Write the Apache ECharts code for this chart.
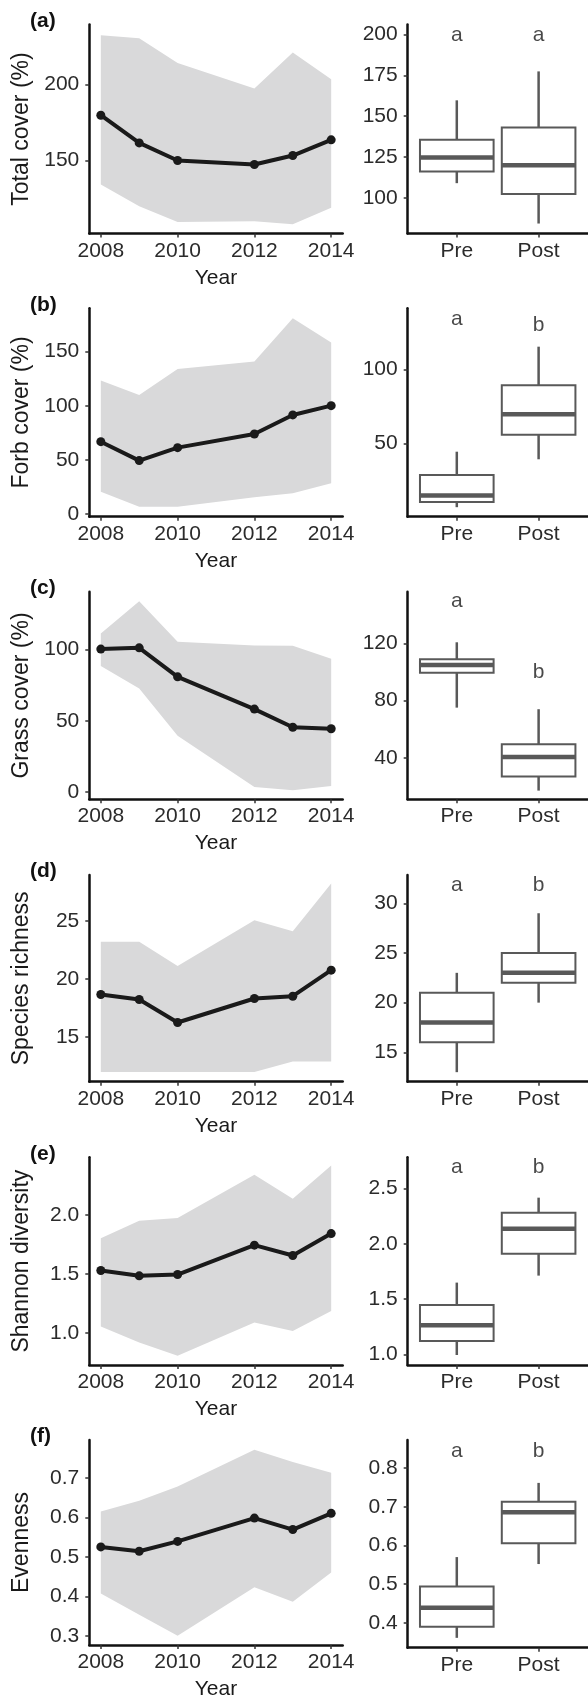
<!DOCTYPE html>
<html>
<head>
<meta charset="utf-8">
<script src="https://cdn.jsdelivr.net/npm/echarts@6/dist/echarts.min.js"></script>
<style>
  html, body { margin: 0; padding: 0; background: #fff; }
  #chart { width: 588px; height: 1701px; }
</style>
</head>
<body>
<div id="chart"></div>
<script>
const years = [2008, 2009, 2010, 2012, 2013, 2014];
const yearTicks = [2008, 2010, 2012, 2014];
const groups = ['Pre', 'Post'];
const tags = ['(a)', '(b)', '(c)', '(d)', '(e)', '(f)'];
const yTitles = ['Total cover (%)', 'Forb cover (%)', 'Grass cover (%)', 'Species richness', 'Shannon diversity', 'Evenness'];

// (a) total cover
const totalMean = [179.8, 161.6, 150.0, 147.4, 153.3, 163.6];
const totalUpper = [232.4, 230.5, 214.2, 197.4, 221.0, 203.5];
const totalLower = [134.2, 120.0, 109.6, 110.0, 108.1, 119.0];
const totalBox = [[109, 116.1, 124.7, 135.5, 159.7], [84.3, 102.4, 120, 143, 177.4]];
const totalLetters = ['a', 'a'];
const totalLetterY = [199.4, 199.4];
const totalTicks = [150, 200];
const totalBoxTicks = [100, 125, 150, 175, 200];

// (b) forb cover
const forbMean = [66.8, 49.3, 61.3, 73.9, 91.5, 100.1];
const forbUpper = [123.2, 110.0, 134.0, 140.8, 180.9, 158.3];
const forbLower = [20.6, 6.7, 6.7, 15.4, 19.1, 28.4];
const forbBox = [[7.3, 10.8, 15.1, 29, 44.6], [39.5, 56, 69.8, 89.2, 115.2]];
const forbLetters = ['a', 'b'];
const forbLetterY = [134, 129.6];
const forbTicks = [0, 50, 100, 150];
const forbBoxTicks = [50, 100];

// (c) grass cover
const grassMean = [100.2, 101.1, 80.8, 58.2, 45.5, 44.4];
const grassUpper = [111.2, 133.8, 105.3, 102.8, 102.5, 93.4];
const grassLower = [88.3, 72.7, 39.5, 3.7, 1.4, 4.4];
const grassBox = [[75.1, 99.5, 104.9, 108.8, 120.7], [17.2, 27, 40.7, 49.6, 74]];
const grassLetters = ['a', 'b'];
const grassLetterY = [149.6, 99.6];
const grassTicks = [0, 50, 100];
const grassBoxTicks = [40, 80, 120];

// (d) species richness
const richMean = [18.66, 18.23, 16.25, 18.31, 18.51, 20.75];
const richUpper = [23.2, 23.2, 21.1, 25.05, 24.1, 28.2];
const richLower = [12, 12, 12, 12, 12.9, 12.9];
const richBox = [[13, 16, 18, 21, 23], [20, 22, 23, 25, 29]];
const richLetters = ['a', 'b'];
const richLetterY = [31.85, 31.85];
const richTicks = [15, 20, 25];
const richBoxTicks = [15, 20, 25, 30];

// (e) Shannon diversity
const shanMean = [1.531, 1.486, 1.497, 1.746, 1.658, 1.844];
const shanUpper = [1.805, 1.952, 1.975, 2.342, 2.138, 2.42];
const shanLower = [1.056, 0.921, 0.81, 1.09, 1.02, 1.189];
const shanBox = [[0.997, 1.123, 1.266, 1.449, 1.65], [1.713, 1.91, 2.135, 2.28, 2.416]];
const shanLetters = ['a', 'b'];
const shanLetterY = [2.687, 2.687];
const shanTicks = [1.0, 1.5, 2.0];
const shanBoxTicks = [1.0, 1.5, 2.0, 2.5];

// (f) evenness
const evenMean = [0.525, 0.514, 0.539, 0.598, 0.569, 0.61];
const evenUpper = [0.615, 0.642, 0.678, 0.771, 0.74, 0.713];
const evenLower = [0.407, 0.353, 0.3, 0.423, 0.386, 0.46];
const evenBox = [[0.361, 0.39, 0.439, 0.494, 0.57], [0.552, 0.606, 0.686, 0.713, 0.762]];
const evenLetters = ['a', 'b'];
const evenLetterY = [0.845, 0.845];
const evenTicks = [0.3, 0.4, 0.5, 0.6, 0.7];
const evenBoxTicks = [0.4, 0.5, 0.6, 0.7, 0.8];

const FONT = 'Liberation Sans, Arial, Helvetica, sans-serif';
const INK = '#1a1a1a';
const TICK_TEXT = '#2b2b2b';
const BAND = '#d9d9da';
const BOX_INK = '#595959';

const panels = [
  { mean: totalMean, upper: totalUpper, lower: totalLower, box: totalBox, letters: totalLetters, letterY: totalLetterY,
    ticks: totalTicks, boxTicks: totalBoxTicks, digits: 0, range: [102, 239.5], boxRange: [78.2, 206.1], top: 24.5, bottom: 233.5 },
  { mean: forbMean, upper: forbUpper, lower: forbLower, box: forbBox, letters: forbLetters, letterY: forbLetterY,
    ticks: forbTicks, boxTicks: forbBoxTicks, digits: 0, range: [-2.5, 190], boxRange: [0.9, 141], top: 308.3, bottom: 516.7 },
  { mean: grassMean, upper: grassUpper, lower: grassLower, box: grassBox, letters: grassLetters, letterY: grassLetterY,
    ticks: grassTicks, boxTicks: grassBoxTicks, digits: 0, range: [-4.9, 140.4], boxRange: [11.2, 156], top: 591.7, bottom: 799.2 },
  { mean: richMean, upper: richUpper, lower: richLower, box: richBox, letters: richLetters, letterY: richLetterY,
    ticks: richTicks, boxTicks: richBoxTicks, digits: 0, range: [11.16, 28.93], boxRange: [12.04, 32.85], top: 875, bottom: 1081.7 },
  { mean: shanMean, upper: shanUpper, lower: shanLower, box: shanBox, letters: shanLetters, letterY: shanLetterY,
    ticks: shanTicks, boxTicks: shanBoxTicks, digits: 1, range: [0.731, 2.49], boxRange: [0.907, 2.78], top: 1157.3, bottom: 1365 },
  { mean: evenMean, upper: evenUpper, lower: evenLower, box: evenBox, letters: evenLetters, letterY: evenLetterY,
    ticks: evenTicks, boxTicks: evenBoxTicks, digits: 1, range: [0.2766, 0.7958], boxRange: [0.3355, 0.873], top: 1440, bottom: 1647.7 }
];

function xAxisOf(gridIndex, min, max, ticks, fmt, title) {
  return {
    type: 'value', gridIndex: gridIndex, min: min, max: max,
    name: title, nameLocation: 'middle', nameGap: 34,
    nameTextStyle: { fontSize: 21, color: INK, fontFamily: FONT },
    axisLine: { show: true, onZero: false, lineStyle: { color: '#111', width: 2.5 } },
    axisTick: { show: true, customValues: ticks, length: 4, lineStyle: { color: '#333', width: 1.5 } },
    axisLabel: { customValues: ticks, margin: 7, fontSize: 21, color: TICK_TEXT, fontFamily: FONT, formatter: fmt },
    splitLine: { show: false }
  };
}

function yAxisOf(gridIndex, range, ticks, digits, title) {
  return {
    type: 'value', gridIndex: gridIndex, min: range[0], max: range[1],
    name: title, nameLocation: 'middle', nameGap: 56, nameRotate: 90,
    nameTextStyle: { fontSize: 23, color: INK, fontFamily: FONT },
    axisLine: { show: true, onZero: false, lineStyle: { color: '#111', width: 2.5 } },
    axisTick: { show: true, customValues: ticks, length: 4, lineStyle: { color: '#333', width: 1.5 } },
    axisLabel: { customValues: ticks, margin: 10, fontSize: 21, color: TICK_TEXT, fontFamily: FONT,
      formatter: function (v) { return v.toFixed(digits); } },
    splitLine: { show: false }
  };
}

// shaded range polygon: upper edge left to right, lower edge back
function bandRenderer(p) {
  return function (params, api) {
    if (params.dataIndex !== 0) return null;
    const pts = [];
    for (let k = 0; k < years.length; k++) pts.push(api.coord([years[k], p.upper[k]]));
    for (let k = years.length - 1; k >= 0; k--) pts.push(api.coord([years[k], p.lower[k]]));
    return { type: 'polygon', shape: { points: pts }, style: { fill: BAND } };
  };
}

// box + whiskers + median, placed through the axes
function renderBox(params, api) {
  const x = api.value(0);
  const lo = api.coord([x, api.value(1)]);
  const q1 = api.coord([x, api.value(2)]);
  const med = api.coord([x, api.value(3)]);
  const q3 = api.coord([x, api.value(4)]);
  const hi = api.coord([x, api.value(5)]);
  const half = api.size([0.9, 0])[0] / 2;
  const cx = lo[0];
  return {
    type: 'group',
    children: [
      { type: 'line', shape: { x1: cx, y1: hi[1], x2: cx, y2: q3[1] }, style: { stroke: BOX_INK, lineWidth: 2.5 } },
      { type: 'line', shape: { x1: cx, y1: q1[1], x2: cx, y2: lo[1] }, style: { stroke: BOX_INK, lineWidth: 2.5 } },
      { type: 'rect', shape: { x: cx - half, y: q3[1], width: 2 * half, height: q1[1] - q3[1] },
        style: { fill: '#fff', stroke: BOX_INK, lineWidth: 2 } },
      { type: 'line', shape: { x1: cx - half, y1: med[1], x2: cx + half, y2: med[1] }, style: { stroke: BOX_INK, lineWidth: 4.5 } }
    ]
  };
}

const option = {
  animation: false,
  textStyle: { fontFamily: FONT },
  grid: [], xAxis: [], yAxis: [], series: [], graphic: []
};

panels.forEach(function (p, i) {
  const gl = i * 2, gr = i * 2 + 1;
  const h = p.bottom - p.top;
  option.grid.push({ left: 89.3, top: p.top, width: 253.4, height: h });
  option.grid.push({ left: 407.7, top: p.top, width: 180, height: h });

  option.xAxis.push(xAxisOf(gl, 2007.7, 2014.3, yearTicks, function (v) { return String(v); }, 'Year'));
  option.xAxis.push(xAxisOf(gr, 0.4, 2.6, [1, 2], function (v) { return groups[Math.round(v) - 1]; }, ''));
  option.yAxis.push(yAxisOf(gl, p.range, p.ticks, p.digits, yTitles[i]));
  option.yAxis.push(yAxisOf(gr, p.boxRange, p.boxTicks, p.digits, ''));

  option.series.push({
    type: 'custom', xAxisIndex: gl, yAxisIndex: gl, silent: true,
    encode: { x: 0, y: [1, 2] },
    data: years.map(function (y, k) { return [y, p.lower[k], p.upper[k]]; }),
    renderItem: bandRenderer(p), z: 1
  });
  option.series.push({
    type: 'line', xAxisIndex: gl, yAxisIndex: gl,
    data: years.map(function (y, k) { return [y, p.mean[k]]; }),
    symbol: 'circle', symbolSize: 9, showSymbol: true,
    lineStyle: { color: INK, width: 4 }, itemStyle: { color: INK }, z: 3
  });

  option.series.push({
    type: 'custom', xAxisIndex: gr, yAxisIndex: gr,
    encode: { x: 0, y: [1, 2, 3, 4, 5] },
    data: p.box.map(function (b, k) { return [k + 1].concat(b); }),
    renderItem: renderBox, z: 2
  });
  option.series.push({
    type: 'scatter', xAxisIndex: gr, yAxisIndex: gr,
    data: p.letterY.map(function (v, k) { return [k + 1, v]; }),
    symbolSize: 1, itemStyle: { color: 'transparent' },
    label: {
      show: true, position: 'inside', fontSize: 21, color: INK, fontFamily: FONT,
      formatter: function (prm) { return p.letters[prm.dataIndex]; }
    },
    z: 4
  });

  option.graphic.push({
    type: 'text', x: 30, y: p.top - 3.5,
    style: { text: tags[i], font: 'bold 21px ' + FONT, fill: '#111', verticalAlign: 'middle', align: 'left' }
  });
});

const myChart = echarts.init(document.getElementById('chart'), null, { renderer: 'canvas' });
myChart.setOption(option);
</script>
</body>
</html>
